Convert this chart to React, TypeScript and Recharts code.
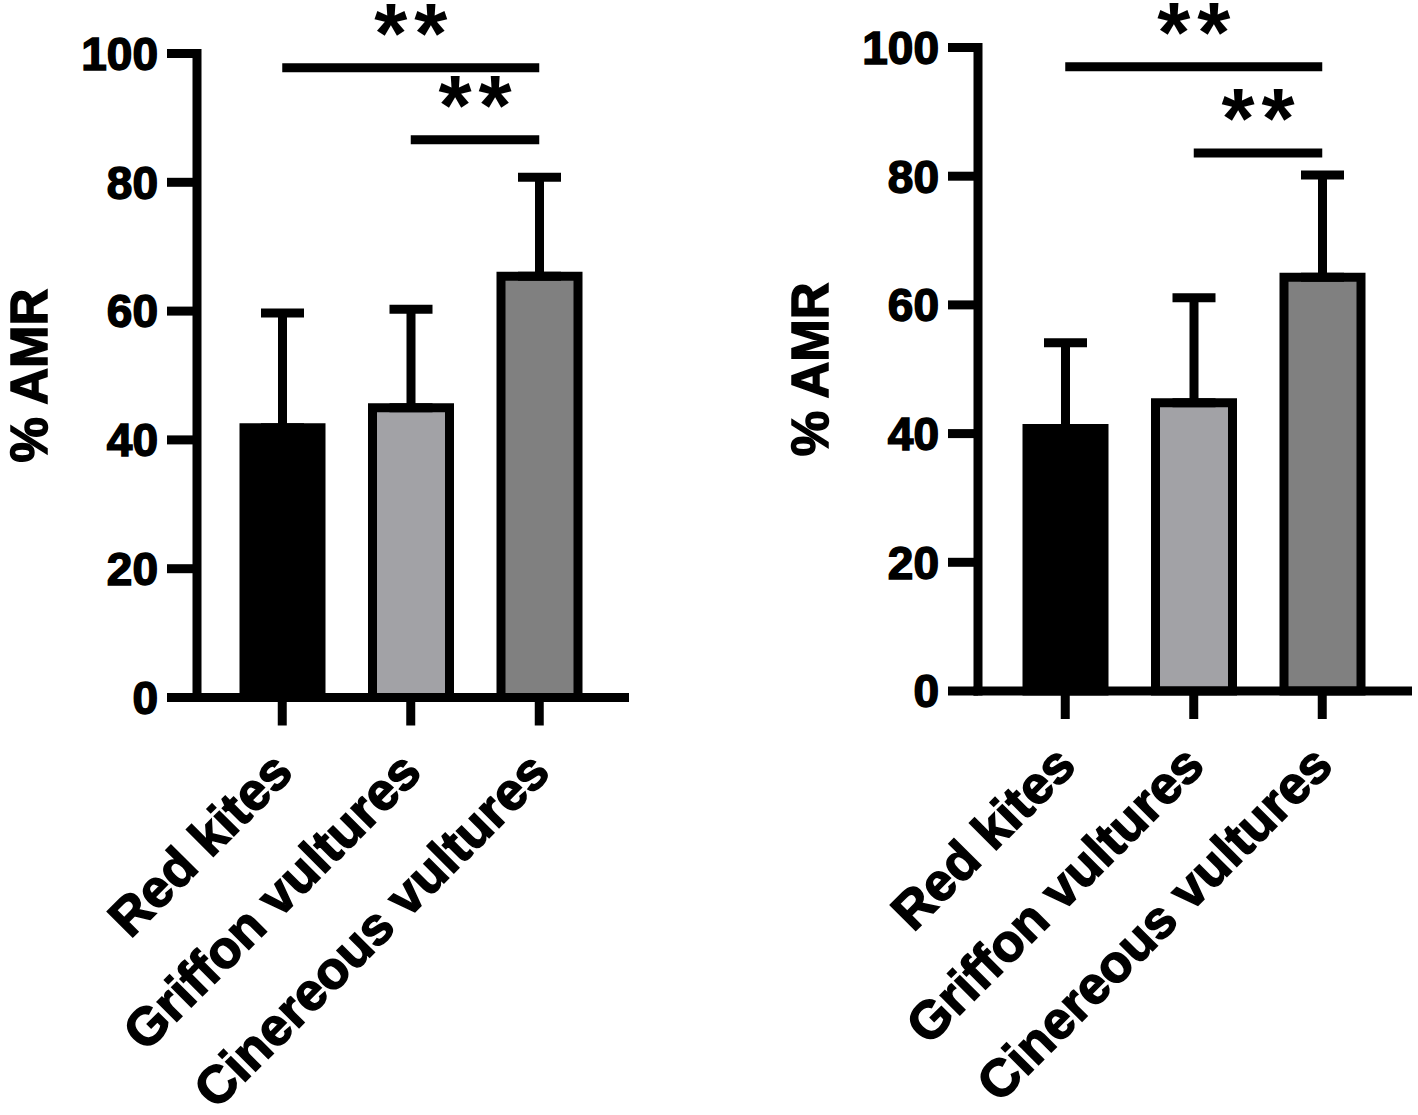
import React from 'react';
import { BarChart, Bar, XAxis, YAxis, ErrorBar, Cell, ReferenceLine } from 'recharts';

const categories = ['Red kites', 'Griffon vultures', 'Cinereous vultures'];
const barColors = ['#000000', '#a2a2a6', '#808080'];
const yTicks = [0, 20, 40, 60, 80, 100];

const leftMeans = [41.9, 45.0, 65.4];
const leftSD = [17.8, 15.3, 15.4];
const rightMeans = [40.8, 44.8, 64.3];
const rightSD = [13.3, 16.3, 15.9];

const leftComparisons = [
  { from: 'Red kites', to: 'Cinereous vultures', y: 97.8, mark: '**' },
  { from: 'Griffon vultures', to: 'Cinereous vultures', y: 86.6, mark: '**' },
];
const rightComparisons = [
  { from: 'Red kites', to: 'Cinereous vultures', y: 97.0, mark: '**' },
  { from: 'Griffon vultures', to: 'Cinereous vultures', y: 83.6, mark: '**' },
];

const FONT = '"Liberation Sans", Arial, Helvetica, sans-serif';
const SW = 9;
const TEXT_STROKE = 1.5;

const buildData = (means: number[], sds: number[]) =>
  categories.map((name, i) => ({ name, mean: means[i], err: [0, sds[i]] }));

const XTick = (props: any) => {
  const { x, y, payload } = props;
  const ax = x + 13;
  const ay = y + 47;
  return (
    <text
      x={ax}
      y={ay}
      transform={`rotate(-45, ${ax}, ${ay})`}
      textAnchor="end"
      fontFamily={FONT}
      fontWeight="bold"
      fontSize={52.5}
      fill="#000"
      stroke="#000"
      strokeWidth={TEXT_STROKE}
    >
      {payload.value}
    </text>
  );
};

const yLabel = (props: any) => {
  const vb = props.viewBox || {};
  const lx = vb.x + vb.width - 150;
  const ly = vb.y + vb.height / 2;
  return (
    <text
      x={lx}
      y={ly}
      transform={`rotate(-90, ${lx}, ${ly})`}
      textAnchor="middle"
      fontFamily={FONT}
      fontWeight="bold"
      fontSize={51}
      fill="#000"
      stroke="#000"
      strokeWidth={TEXT_STROKE}
    >
      % AMR
    </text>
  );
};

const sigShape = (mark: string) => (props: any) => {
  const { x1, y1, x2, y2 } = props;
  const cx = (x1 + x2) / 2;
  return (
    <g>
      <line x1={x1} y1={y1} x2={x2} y2={y2} stroke="#000" strokeWidth={SW} />
      <text
        x={cx + 3.5}
        y={y1 - 5}
        textAnchor="middle"
        fontFamily={FONT}
        fontWeight="bold"
        fontSize={85}
        letterSpacing={7}
        fill="#000"
      >
        {mark}
      </text>
    </g>
  );
};

type PanelProps = {
  means: number[];
  sds: number[];
  comparisons: { from: string; to: string; y: number; mark: string }[];
  width: number;
  margin: { top: number; right: number; bottom: number; left: number };
  yAxisWidth: number;
  padding: { left: number; right: number };
};

const Panel = ({ means, sds, comparisons, width, margin, yAxisWidth, padding }: PanelProps) => {
  const data = buildData(means, sds);
  return (
    <BarChart width={width} height={1115} data={data} margin={margin} barSize={77}>
      <XAxis
        dataKey="name"
        type="category"
        interval={0}
        height={400}
        padding={padding}
        tickSize={28}
        tickMargin={2}
        tick={<XTick />}
        tickLine={{ stroke: '#000', strokeWidth: SW }}
        axisLine={{ stroke: '#000', strokeWidth: SW, strokeLinecap: 'square' }}
      />
      <YAxis
        type="number"
        domain={[0, 100]}
        ticks={yTicks}
        interval={0}
        width={yAxisWidth}
        tickSize={30}
        tickMargin={9}
        tick={{ fontFamily: FONT, fontWeight: 'bold', fontSize: 46, fill: '#000', stroke: '#000', strokeWidth: TEXT_STROKE }}
        tickLine={{ stroke: '#000', strokeWidth: SW }}
        axisLine={{ stroke: '#000', strokeWidth: SW, strokeLinecap: 'square' }}
        label={yLabel}
      />
      <Bar dataKey="mean" stroke="#000" strokeWidth={SW} isAnimationActive={false}>
        {data.map((d, i) => (
          <Cell key={d.name} fill={barColors[i]} />
        ))}
        <ErrorBar dataKey="err" direction="y" width={21.5} stroke="#000" strokeWidth={SW} />
      </Bar>
      {comparisons.map((c, i) => (
        <ReferenceLine
          key={i}
          segment={[
            { x: c.from, y: c.y },
            { x: c.to, y: c.y },
          ]}
          shape={sigShape(c.mark)}
        />
      ))}
    </BarChart>
  );
};

export default function App() {
  return (
    <div style={{ position: 'absolute', left: 0, top: 0, width: 1418, height: 1115, background: '#fff' }}>
      <div style={{ position: 'absolute', left: 0, top: 0 }}>
        <Panel
          means={leftMeans}
          sds={leftSD}
          comparisons={leftComparisons}
          width={700}
          margin={{ top: 53.5, right: 75.5, bottom: 17.5, left: 0 }}
          yAxisWidth={197}
          padding={{ left: 21, right: 21 }}
        />
      </div>
      <div style={{ position: 'absolute', left: 700, top: 0 }}>
        <Panel
          means={rightMeans}
          sds={rightSD}
          comparisons={rightComparisons}
          width={718}
          margin={{ top: 47.5, right: 10.5, bottom: 24, left: 0 }}
          yAxisWidth={278}
          padding={{ left: 23, right: 21 }}
        />
      </div>
    </div>
  );
}
